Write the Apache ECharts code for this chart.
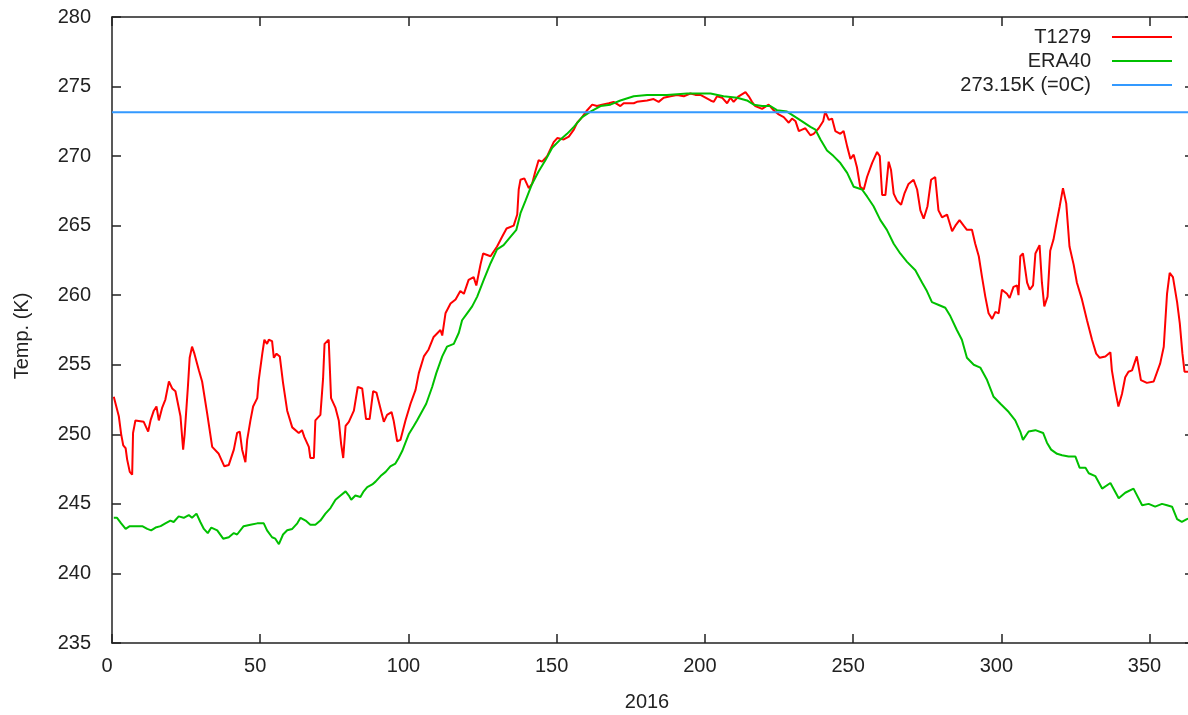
<!DOCTYPE html>
<html>
<head>
<meta charset="utf-8">
<title>Mean temperature north of 80N, 2016</title>
<script src="https://cdn.jsdelivr.net/npm/echarts@6/dist/echarts.min.js"></script>
<style>
    html, body { margin: 0; padding: 0; background: #fff; }
    #chart { width: 1188px; height: 715px; }
</style>
</head>
<body>
<div id="chart"></div>
<script>
    // [day of year, K]
    const t1279 = [
        [0.6,252.7],[2.3,251.3],[3.1,250.0],[3.8,249.2],[4.6,249.0],[5.1,248.2],[6.0,247.3],[6.8,247.1],[7.1,250.1],[7.9,251.0],
        [10.7,250.9],[11.3,251.0],[12.2,250.2],[13.0,251.0],[14.1,251.7],[15.0,252.0],[15.8,251.0],[16.9,251.9],[18.0,252.5],[19.2,253.8],
        [20.3,253.3],[21.4,253.1],[23.1,251.3],[24.0,248.9],[24.5,250.0],[25.6,253.4],[26.2,255.5],[27.0,256.3],[27.8,255.8],[29.3,254.6],
        [30.4,253.8],[32.1,251.5],[33.8,249.1],[36.0,248.6],[37.9,247.7],[39.4,247.8],[41.1,248.9],[42.2,250.1],[43.1,250.2],[43.9,248.9],
        [45.0,248.0],[45.6,249.6],[46.7,251.0],[47.6,252.0],[49.0,252.6],[49.5,253.9],[50.7,255.8],[51.4,256.8],[52.3,256.5],[52.9,256.8],
        [54.0,256.7],[54.6,255.5],[55.5,255.8],[56.6,255.6],[57.7,253.7],[59.1,251.7],[60.8,250.5],[63.0,250.1],[64.1,250.3],[64.9,249.8],
        [66.4,249.1],[66.9,248.3],[68.1,248.3],[68.6,251.0],[70.3,251.4],[71.2,254.0],[71.7,256.5],[73.1,256.8],[73.9,252.6],[75.4,251.9],
        [76.5,251.0],[77.3,249.3],[78.0,248.3],[78.8,250.6],[79.9,250.9],[81.6,251.7],[82.9,253.4],[84.4,253.3],[85.7,251.1],[86.9,251.1],
        [88.1,253.1],[89.2,253.0],[91.7,250.9],[92.8,251.4],[94.3,251.6],[95.0,251.0],[96.2,249.5],[97.3,249.6],[99.0,251.0],[100.7,252.2],
        [102.4,253.2],[103.5,254.4],[105.2,255.6],[106.8,256.1],[108.5,257.0],[110.8,257.5],[111.4,257.1],[112.5,258.7],[114.2,259.4],[115.9,259.7],
        [117.5,260.3],[118.7,260.1],[120.3,261.1],[122.0,261.3],[122.9,260.7],[124.3,262.2],[125.2,263.0],[127.7,262.8],[129.9,263.5],[131.6,264.2],
        [133.1,264.8],[135.5,265.0],[136.7,265.8],[137.2,267.6],[137.8,268.3],[139.1,268.4],[140.6,267.7],[141.7,268.0],[142.8,268.9],[143.9,269.7],
        [145.1,269.6],[146.8,270.0],[149.0,271.0],[150.2,271.3],[152.4,271.2],[154.1,271.4],[155.8,271.9],[156.9,272.4],[158.6,272.8],[160.3,273.3],
        [162.0,273.7],[163.6,273.6],[165.3,273.7],[167.6,273.8],[169.2,273.9],[171.5,273.6],[172.6,273.8],[176.0,273.8],[177.1,273.9],[180.5,274.0],
        [182.7,274.1],[184.4,273.9],[186.1,274.2],[188.4,274.3],[190.6,274.4],[192.9,274.3],[195.1,274.5],[196.8,274.4],[198.5,274.4],[201.9,274.0],
        [203.0,273.9],[204.1,274.3],[205.8,274.2],[207.5,273.8],[208.6,274.2],[209.7,273.9],[211.4,274.3],[213.7,274.6],[214.8,274.3],[215.9,273.9],
        [217.0,273.6],[219.3,273.4],[221.5,273.7],[223.2,273.3],[224.9,273.0],[226.6,272.8],[228.3,272.4],[229.4,272.7],[230.6,272.5],[231.7,271.8],
        [232.8,271.9],[233.9,272.0],[235.6,271.5],[236.7,271.6],[238.4,272.0],[239.9,272.5],[240.6,273.2],[241.8,272.6],[242.9,272.7],[244.0,271.8],
        [245.7,271.6],[246.8,271.8],[248.0,270.7],[249.1,269.8],[250.2,270.1],[251.3,269.2],[252.4,267.8],[253.6,267.6],[254.7,268.5],[256.4,269.5],
        [258.1,270.3],[259.0,270.0],[259.8,267.2],[260.9,267.2],[262.0,269.6],[262.8,269.0],[263.7,267.3],[264.8,266.8],[266.2,266.5],[267.3,267.3],
        [268.7,268.0],[270.4,268.3],[271.6,267.6],[272.7,266.1],[273.8,265.5],[275.1,266.4],[276.3,268.3],[277.7,268.5],[278.8,266.1],[280.0,265.6],
        [281.7,265.8],[283.4,264.6],[284.5,265.0],[285.9,265.4],[287.3,265.0],[288.4,264.7],[290.1,264.7],[291.2,263.7],[292.4,262.8],[293.5,261.3],
        [294.6,259.9],[295.7,258.7],[296.9,258.3],[298.0,258.8],[299.1,258.7],[300.2,260.4],[301.9,260.1],[302.8,259.8],[304.1,260.6],[305.3,260.7],
        [305.8,260.0],[306.4,262.8],[307.3,263.0],[308.7,260.9],[309.6,260.4],[310.7,260.7],[311.5,263.0],[312.9,263.6],[313.7,260.9],[314.5,259.2],
        [315.6,259.9],[316.5,263.2],[317.6,264.0],[318.8,265.4],[319.7,266.4],[320.8,267.7],[321.9,266.6],[323.0,263.5],[324.4,262.2],[325.5,260.9],
        [327.2,259.7],[328.9,258.2],[330.6,256.8],[332.0,255.8],[333.2,255.5],[335.1,255.6],[336.8,255.9],[337.3,254.6],[338.4,253.2],[339.5,252.0],
        [340.7,252.9],[341.8,254.1],[342.9,254.5],[344.1,254.6],[345.7,255.6],[346.3,255.5],[347.1,253.9],[349.1,253.7],[351.4,253.8],[353.6,255.1],
        [354.8,256.3],[355.9,260.1],[356.8,261.6],[357.9,261.3],[359.3,259.5],[360.2,258.0],[361.1,255.8],[361.8,254.5],[365.0,254.5]
    ];

    const era40 = [
        [0.6,244.0],[1.7,244.0],[3.1,243.6],[4.6,243.2],[6.0,243.4],[7.4,243.4],[8.5,243.4],[10.2,243.4],[11.9,243.2],[13.2,243.1],
        [14.7,243.3],[16.4,243.4],[18.0,243.6],[19.7,243.8],[20.8,243.7],[22.5,244.1],[24.2,244.0],[25.9,244.2],[27.0,244.0],[28.5,244.3],
        [29.8,243.7],[31.0,243.2],[32.3,242.9],[33.5,243.3],[35.5,243.1],[37.5,242.5],[39.4,242.6],[41.1,242.9],[42.2,242.8],[44.4,243.4],
        [46.7,243.5],[49.0,243.6],[51.2,243.6],[52.3,243.1],[54.0,242.6],[55.1,242.5],[56.3,242.1],[57.7,242.8],[59.1,243.1],[60.8,243.2],
        [62.5,243.6],[63.6,244.0],[65.3,243.8],[66.9,243.5],[68.6,243.5],[70.3,243.8],[72.0,244.3],[73.7,244.7],[75.4,245.3],[77.1,245.6],
        [78.8,245.9],[79.9,245.6],[80.7,245.3],[82.1,245.6],[83.8,245.5],[84.9,245.9],[86.1,246.2],[87.8,246.4],[88.9,246.6],[90.6,247.0],
        [92.3,247.3],[93.9,247.7],[95.6,247.9],[96.7,248.3],[97.9,248.8],[99.0,249.4],[100.1,250.0],[101.8,250.6],[102.9,251.0],[106.0,252.2],
        [108.0,253.4],[109.4,254.4],[111.4,255.6],[113.0,256.3],[115.3,256.5],[117.0,257.3],[118.1,258.2],[119.8,258.7],[121.5,259.2],[123.2,259.9],
        [125.4,261.1],[127.7,262.3],[129.9,263.3],[132.1,263.6],[134.4,264.2],[136.4,264.7],[137.8,265.9],[139.5,266.8],[141.7,268.0],[143.9,268.9],
        [146.2,269.7],[148.5,270.6],[151.3,271.2],[153.5,271.6],[155.8,272.1],[158.6,272.8],[161.4,273.2],[164.8,273.6],[168.1,273.7],[171.5,274.0],
        [176.0,274.3],[180.5,274.4],[187.2,274.4],[194.0,274.5],[201.9,274.5],[206.3,274.3],[210.9,274.2],[214.2,274.0],[216.5,273.7],[219.3,273.6],
        [222.1,273.6],[224.3,273.3],[227.7,273.2],[230.6,272.8],[232.8,272.5],[235.6,272.1],[237.3,271.9],[239.0,271.2],[241.2,270.4],[243.4,270.0],
        [245.7,269.5],[248.0,268.8],[250.2,267.8],[253.0,267.6],[254.7,267.1],[256.9,266.4],[259.2,265.4],[261.4,264.7],[263.7,263.7],[265.9,263.0],
        [268.2,262.4],[271.0,261.8],[273.3,260.9],[274.9,260.3],[276.6,259.5],[278.9,259.3],[281.1,259.1],[282.8,258.5],[285.0,257.5],[286.7,256.8],
        [288.4,255.5],[290.7,255.0],[292.9,254.8],[295.2,253.9],[297.4,252.7],[299.7,252.2],[302.5,251.6],[304.7,251.0],[306.4,250.2],[307.3,249.6],
        [309.2,250.2],[311.5,250.3],[314.1,250.1],[315.4,249.4],[316.8,248.9],[318.8,248.6],[320.5,248.5],[322.7,248.4],[325.0,248.4],[326.4,247.6],
        [328.4,247.6],[329.5,247.2],[331.7,247.0],[334.0,246.1],[336.8,246.5],[339.6,245.4],[341.8,245.8],[344.6,246.1],[347.5,244.9],[349.7,245.0],
        [351.9,244.8],[354.2,245.0],[355.9,244.9],[357.6,244.8],[359.3,243.9],[360.9,243.7],[362.6,243.9],[365.0,244.1]
    ];

    const freezeK = 273.15;
    const dayRange = [0, 365];
    const tempRange = [235, 280];

    const frameColor = '#222';
    const textColor = '#222';
    const font = 'Liberation Sans, Arial, sans-serif';
    const fontSize = 20;

    let myChart = echarts.init(document.getElementById('chart'));

    // axis frame like gnuplot: ticks inside on all four sides
    function frameAxis(extra) {
        return Object.assign({
            type: 'value',
            axisLine: { show: true, onZero: false, lineStyle: { color: frameColor, width: 1.5 } },
            axisTick: { show: true, inside: true, length: 9, lineStyle: { color: frameColor, width: 1.5 } },
            splitLine: { show: false },
            axisLabel: { show: false }
        }, extra);
    }

    let option = {
        animation: false,
        backgroundColor: '#fff',
        // the plot runs a few pixels past the right edge of the picture
        grid: { left: 112, top: 17, width: 1082, height: 626, outerBoundsMode: 'none', containLabel: false },
        legend: {
            orient: 'vertical',
            right: 11,
            top: 22,
            align: 'right',
            itemWidth: 60,
            itemHeight: 2,
            itemGap: 4,
            icon: 'rect',
            textStyle: { color: textColor, fontSize: fontSize, fontFamily: font, padding: [0, 16, 0, 0] },
            data: ['T1279', 'ERA40', '273.15K (=0C)']
        },
        xAxis: [
            frameAxis({
                position: 'bottom',
                min: dayRange[0], max: dayRange[1], interval: 50,
                name: '2016', nameLocation: 'middle', nameGap: 49,
                nameTextStyle: { color: textColor, fontSize: fontSize, fontFamily: font, padding: [0, 12, 0, 0] },
                axisLabel: { show: true, color: textColor, fontSize: fontSize, fontFamily: font, margin: 13, padding: [0, 10, 0, 0], showMaxLabel: false }
            }),
            frameAxis({
                position: 'top',
                min: dayRange[0], max: dayRange[1], interval: 50
            })
        ],
        yAxis: [
            frameAxis({
                position: 'left',
                min: tempRange[0], max: tempRange[1], interval: 5,
                name: 'Temp. (K)', nameLocation: 'middle', nameGap: 80, nameRotate: 90,
                nameTextStyle: { color: textColor, fontSize: fontSize, fontFamily: font, padding: [0, 12, 0, 0] },
                axisLabel: { show: true, color: textColor, fontSize: fontSize, fontFamily: font, margin: 21 }
            }),
            frameAxis({
                position: 'right',
                min: tempRange[0], max: tempRange[1], interval: 5
            })
        ],
        series: [
            {
                name: 'T1279',
                type: 'line',
                data: t1279,
                showSymbol: false,
                color: '#ff0000',
                lineStyle: { width: 2, color: '#ff0000' },
                z: 2
            },
            {
                name: 'ERA40',
                type: 'line',
                data: era40,
                showSymbol: false,
                color: '#00c000',
                lineStyle: { width: 2, color: '#00c000' },
                z: 3
            },
            {
                name: '273.15K (=0C)',
                type: 'line',
                data: [[dayRange[0], freezeK], [dayRange[1], freezeK]],
                showSymbol: false,
                color: '#3399ff',
                lineStyle: { width: 2, color: '#3399ff' },
                z: 4
            }
        ]
    };

    myChart.setOption(option);
</script>
</body>
</html>
